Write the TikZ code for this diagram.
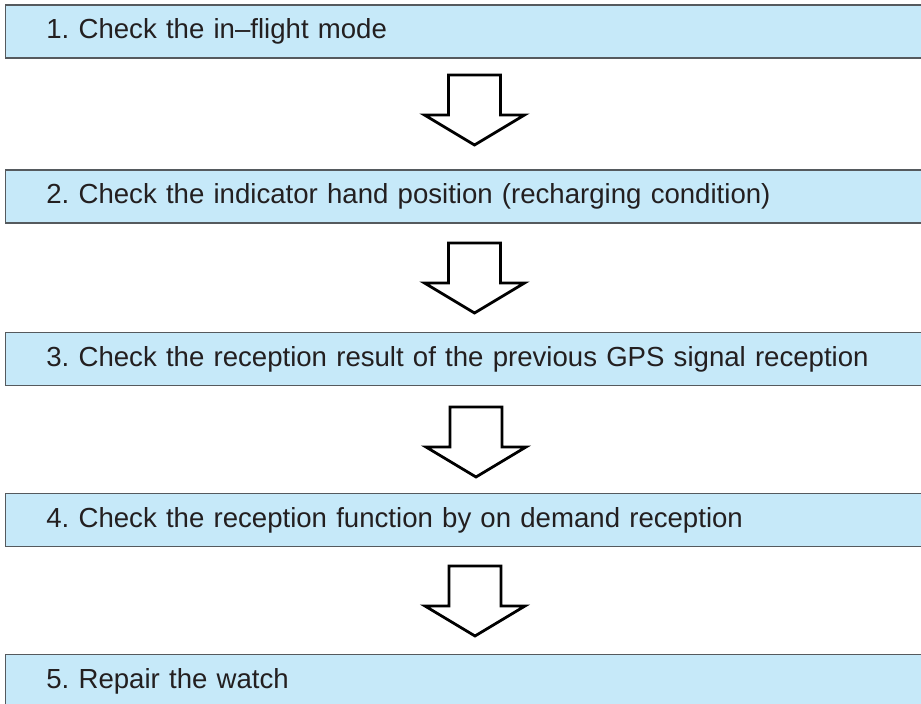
\documentclass[tikz,border=0pt]{standalone}
\usepackage{fontspec}
\setmainfont{Liberation Sans}
\definecolor{boxfill}{HTML}{C6E9F9}
\definecolor{boxline}{HTML}{555A5E}
\definecolor{txt}{HTML}{231F20}
\begin{document}
\frenchspacing
\begin{tikzpicture}[x=1pt,y=1pt,
  stepbox/.style={draw=boxline, line width=1.8pt, fill=boxfill, anchor=north west,
    minimum width=940pt, minimum height=53pt, text width=858pt, inner xsep=41pt,
    align=left, text=txt, font=\fontsize{27.6}{31}\selectfont},
  barrow/.style={draw=black, line width=2.8pt, fill=white, line join=miter}]
\useasboundingbox (0,0) rectangle (921,-704);
\clip (0,0) rectangle (921,-704);
\node[stepbox] (b1) at (4.5,-4) {1. Check the in--flight mode};
\node[stepbox] (b2) at (4.5,-169) {2. Check the indicator hand position (recharging condition)};
\node[stepbox] (b3) at (4.5,-331.5) {3. Check the reception result of the previous GPS signal reception};
\node[stepbox] (b4) at (4.5,-492.5) {4. Check the reception function by on demand reception};
\node[stepbox] (b5) at (4.5,-653.5) {5. Repair the watch};
\coordinate (a1) at (474.5,-75);
\coordinate (a2) at (474.5,-243);
\coordinate (a3) at (476,-407);
\coordinate (a4) at (475,-566);
\foreach \a in {a1,a2,a3,a4}{
  \draw[barrow] (\a) ++(-26,0) -- ++(52,0) -- ++(0,-40) -- ++(24,0)
    -- ++(-50,-30) -- ++(-50,30) -- ++(24,0) -- cycle;
}
\end{tikzpicture}
\end{document}
